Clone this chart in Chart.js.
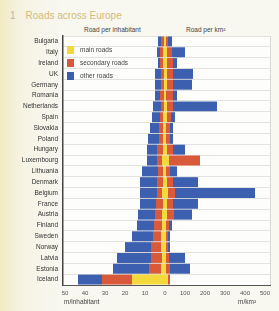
<!DOCTYPE html>
<html>
<head>
<meta charset="utf-8">
<script src="https://cdn.jsdelivr.net/npm/chart.js@4.4.0/dist/chart.umd.min.js"></script>
<style>
  html, body { margin: 0; padding: 0; }
  body {
    width: 279px; height: 311px; overflow: hidden; position: relative;
    background: linear-gradient(to right, #f2eac4 0px, #f6f3e4 22px, #f8f7f0 60px);
    font-family: "Liberation Sans", Arial, sans-serif;
  }
  #wrap { position: absolute; left: 0; top: 0; width: 279px; height: 311px; }
  .txt { position: absolute; white-space: nowrap; color: #444; font-size: 6.5px; }
  .title { left: 10px; top: 10px; font-size: 10px; color: #d2bc76; }
  .title span { color: #b5b5b0; margin-right: 10px; }
  .key { position: absolute; left: 67px; width: 7px; height: 8px; }
</style>
</head>
<body>
<div class="txt title"><span>1</span>Roads across Europe</div>
<div class="txt" style="left:84px; top:26px;">Road per inhabitant</div>
<div class="txt" style="left:186px; top:26px;">Road per km²</div>
<div id="wrap"><canvas id="c" width="279" height="311"></canvas></div>
<div class="key" style="top:46px; background:#f3d93c;"></div>
<div class="txt" style="left:80px; top:46px;">main roads</div>
<div class="key" style="top:59px; background:#d95a3b;"></div>
<div class="txt" style="left:80px; top:59px;">secondary roads</div>
<div class="key" style="top:72px; background:#3c5fa9;"></div>
<div class="txt" style="left:80px; top:72px;">other roads</div>
<div class="txt" style="left:64px; top:298px;">m/inhabitant</div>
<div class="txt" style="left:238px; top:298px;">m/km²</div>
<script>
// rows, top to bottom
const countries = ['Bulgaria', 'Italy', 'Ireland', 'UK', 'Germany', 'Romania', 'Netherlands', 'Spain',
  'Slovakia', 'Poland', 'Hungary', 'Luxembourg', 'Lithuania', 'Denmark', 'Belgium', 'France',
  'Austria', 'Finland', 'Sweden', 'Norway', 'Latvia', 'Estonia', 'Iceland'];

// road length per inhabitant (m)
const perInhMain = [0.5, 1, 1, 0.5, 0.5, 0.5, 0.5, 1, 1, 1, 1, 1.5, 1, 1, 1.5, 1, 1.5, 1.5, 2, 2, 1.5, 2, 16.5];
const perInhSecondary = [1.5, 1.5, 1.5, 1.5, 1.5, 2, 1.5, 1.5, 2, 2, 3, 2.5, 2.5, 3, 2.5, 3.5, 3.5, 4, 4, 5, 5.5, 6, 15];
const perInhOther = [1.5, 1.5, 1, 3, 3, 2.5, 4, 4, 4.5, 5.5, 5, 5, 8, 8.5, 8.5, 8, 8.5, 8.5, 10.5, 13, 17, 18, 12];

// road length per km² (m)
const perKmMain = [5, 10, 10, 10, 10, 5, 10, 10, 5, 5, 10, 20, 5, 10, 15, 10, 10, 5, 5, 5, 5, 5, 15];
const perKmSecondary = [10, 25, 30, 30, 30, 35, 30, 20, 20, 20, 30, 155, 20, 30, 35, 30, 35, 15, 10, 10, 15, 20, 10];
const perKmOther = [20, 65, 20, 100, 95, 20, 220, 20, 15, 15, 60, 0, 35, 125, 400, 125, 90, 15, 10, 10, 80, 100, 0];

const leftTicks = [50, 40, 30, 20, 10, 0];
const rightTicks = [100, 200, 300, 400, 500];

const colMain = '#f3d93c', colSec = '#d95a3b', colOther = '#3c5fb0';

// left half drawn as negative values, right half scaled by 1/10 to share one axis
const neg = a => a.map(v => -v);
const tenth = a => a.map(v => v / 10);
const tickVals = leftTicks.map(v => -v).concat(rightTicks.map(v => v / 10));

function ds(data, color) {
  return { data: data, backgroundColor: color, borderWidth: 0, barPercentage: 0.92, categoryPercentage: 1 };
}

const plotBg = {
  id: 'plotBg',
  beforeDraw(chart) {
    const a = chart.chartArea, ctx = chart.ctx;
    ctx.save();
    ctx.fillStyle = '#fdfdfb';
    ctx.fillRect(a.left, a.top, a.right - a.left, a.bottom - a.top);
    ctx.strokeStyle = '#d8d8d4';
    ctx.lineWidth = 1;
    ctx.beginPath();
    ctx.moveTo(a.right + 0.5, a.top);
    ctx.lineTo(a.right + 0.5, a.bottom);
    ctx.stroke();
    ctx.restore();
  }
};

new Chart(document.getElementById('c'), {
  type: 'bar',
  data: {
    labels: countries,
    datasets: [
      ds(neg(perInhMain), colMain),
      ds(neg(perInhSecondary), colSec),
      ds(neg(perInhOther), colOther),
      ds(tenth(perKmMain), colMain),
      ds(tenth(perKmSecondary), colSec),
      ds(tenth(perKmOther), colOther)
    ]
  },
  options: {
    indexAxis: 'y',
    responsive: false,
    animation: false,
    layout: { padding: { top: 36, right: 9, left: 0, bottom: 0 } },
    plugins: { legend: { display: false }, tooltip: { enabled: false } },
    scales: {
      x: {
        stacked: true,
        min: -51, max: 52.5,
        afterBuildTicks: s => { s.ticks = tickVals.map(v => ({ value: v })); },
        afterFit: s => { s.height = 26; },
        grid: { display: false, drawTicks: true, tickLength: 4, tickColor: '#555' },
        border: { color: '#555', width: 1 },
        ticks: {
          font: { size: 6, family: 'Liberation Sans' }, color: '#555', padding: 1, maxRotation: 0,
          callback: v => v < 0 ? String(-v) : String(Math.round(v * 10))
        }
      },
      y: {
        stacked: true,
        afterFit: s => { s.width = 63; },
        grid: { offset: true, color: '#e2e2de', drawTicks: false },
        border: { color: '#444', width: 1.5 },
        ticks: { font: { size: 6.5, family: 'Liberation Sans' }, color: '#333', padding: 5, autoSkip: false }
      }
    }
  },
  plugins: [plotBg]
});
</script>
</body>
</html>
